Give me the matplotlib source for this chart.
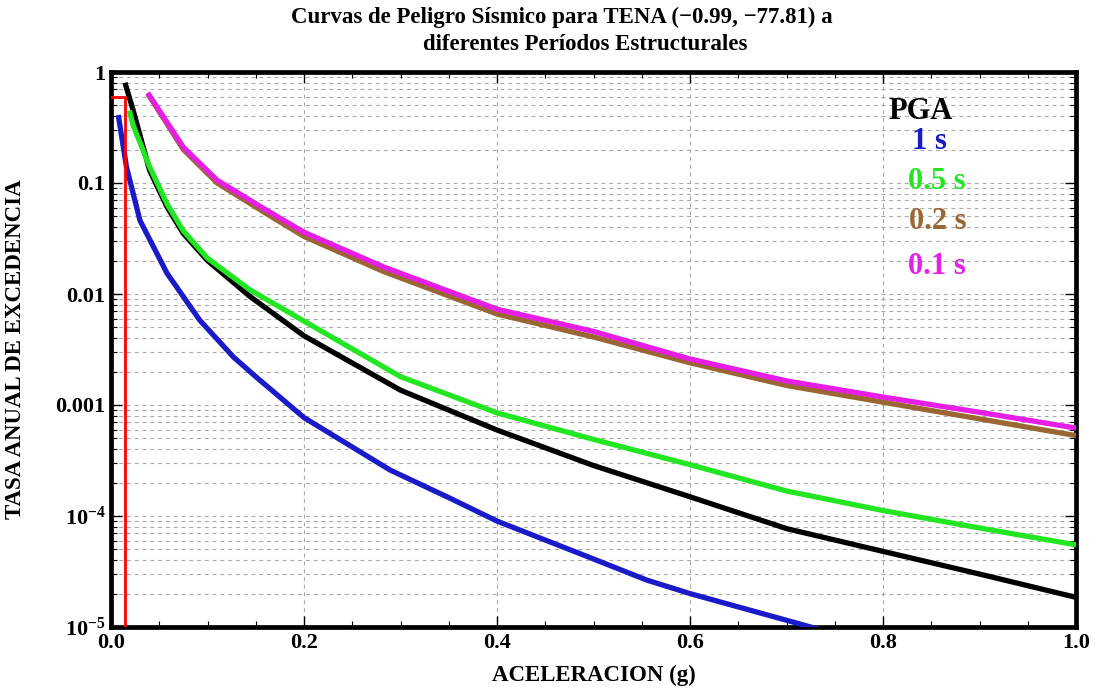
import matplotlib
matplotlib.use("Agg")
import matplotlib.pyplot as plt
from matplotlib.ticker import FixedLocator, NullFormatter
import numpy as np

# ---------------- data ----------------
pga_x = [0.0145, 0.023, 0.040, 0.058, 0.075, 0.100, 0.144, 0.200, 0.300, 0.400, 0.500, 0.600, 0.700, 0.800, 0.900, 1.000]
pga_y = [0.80, 0.45, 0.13, 0.061, 0.035, 0.020, 0.0095, 0.0042, 0.00136, 0.000595, 0.000285, 0.000149, 7.7e-5, 4.8e-5, 3.0e-5, 1.85e-5]

t1_x = [0.0075, 0.016, 0.030, 0.058, 0.092, 0.127, 0.150, 0.200, 0.289, 0.351, 0.400, 0.500, 0.555, 0.600, 0.700, 0.750]
t1_y = [0.41, 0.14, 0.046, 0.0154, 0.0058, 0.0027, 0.0018, 0.00077, 0.00026, 0.000145, 9.0e-5, 4.1e-5, 2.65e-5, 2.0e-5, 1.15e-5, 8.7e-6]

t05_x = [0.019, 0.023, 0.040, 0.058, 0.075, 0.100, 0.144, 0.200, 0.300, 0.400, 0.500, 0.600, 0.700, 0.800, 0.900, 1.000]
t05_y = [0.45, 0.33, 0.14, 0.065, 0.037, 0.021, 0.0109, 0.0057, 0.0018, 0.00085, 0.00049, 0.00029, 0.000168, 0.000112, 7.8e-5, 5.5e-5]

t02_x = [0.038, 0.075, 0.110, 0.161, 0.200, 0.282, 0.400, 0.500, 0.600, 0.700, 0.800, 0.900, 1.000]
t02_y = [0.64, 0.20, 0.100, 0.053, 0.033, 0.0160, 0.0066, 0.0041, 0.0024, 0.00150, 0.00106, 0.00075, 0.00053]

t01_x = [0.038, 0.075, 0.110, 0.161, 0.200, 0.282, 0.400, 0.500, 0.600, 0.700, 0.800, 0.900, 1.000]
t01_y = [0.65, 0.21, 0.106, 0.057, 0.036, 0.0176, 0.0073, 0.0046, 0.0026, 0.00165, 0.00118, 0.00086, 0.00062]

marker_x = [0.0, 0.0145, 0.0145]
marker_y = [0.595, 0.595, 1e-5]

x_ticks = [0.0, 0.2, 0.4, 0.6, 0.8, 1.0]
x_labels = ["0.0", "0.2", "0.4", "0.6", "0.8", "1.0"]
y_ticks = [1, 0.1, 0.01, 0.001, 1e-4, 1e-5]
y_labels = ["1", "0.1", "0.01", "0.001", r"$10^{-4}$", r"$10^{-5}$"]

legend_labels = ["PGA", "1 s", "0.5 s", "0.2 s", "0.1 s"]
colors = ["#000000", "#1a1ac8", "#22e622", "#9a6633", "#e61ee6"]

title1 = "Curvas de Peligro Sísmico para TENA (\u22120.99, \u221277.81) a"
title2 = "diferentes Períodos Estructurales"
xlabel = "ACELERACION (g)"
ylabel = "TASA ANUAL DE EXCEDENCIA"

# ---------------- style ----------------
serif = "Liberation Serif"
plt.rcParams["font.family"] = [serif, "DejaVu Serif"]
plt.rcParams["font.weight"] = "bold"
plt.rcParams["mathtext.fontset"] = "custom"
plt.rcParams["mathtext.rm"] = "Liberation Serif:bold"
plt.rcParams["mathtext.it"] = "Liberation Serif:bold"
plt.rcParams["mathtext.bf"] = "Liberation Serif:bold"
plt.rcParams["mathtext.default"] = "rm"

W, H = 1106, 693
fig = plt.figure(figsize=(W / 100, H / 100), dpi=100)
L, R, T, B = 111, 1076, 72, 627
ax = fig.add_axes([L / W, 1 - B / H, (R - L) / W, (B - T) / H])

ax.set_yscale("log")
ax.set_xlim(0, 1)
ax.set_ylim(1e-5, 1)

# grid
grid_kw = dict(color="#a8a8a8", lw=0.8, ls=(0, (3.5, 3.5)), zorder=0)
for xv in x_ticks[1:-1]:
    ax.axvline(xv, **grid_kw)
for d in range(-5, 0):
    for m in range(1, 10):
        v = m * 10.0 ** d
        if 1e-5 < v < 1:
            ax.axhline(v, **grid_kw)

# curves (drawn in legend order)
series = [(pga_x, pga_y), (t1_x, t1_y), (t05_x, t05_y), (t02_x, t02_y), (t01_x, t01_y)]
for (xs, ys), c in zip(series, colors):
    ax.plot(xs, ys, color=c, lw=3.8, solid_joinstyle="round", solid_capstyle="butt", zorder=3)

ax.plot(marker_x, marker_y, color="#ff0000", lw=2.0, zorder=4)

# ticks
ax.xaxis.set_major_locator(FixedLocator(x_ticks))
ax.set_xticklabels(x_labels)
ax.xaxis.set_minor_locator(FixedLocator(np.arange(0.05, 1.0, 0.05)))
ax.yaxis.set_major_locator(FixedLocator(y_ticks))
ax.set_yticklabels(y_labels)
minor_y = [m * 10.0 ** d for d in range(-5, 0) for m in range(2, 10)]
ax.yaxis.set_minor_locator(FixedLocator(minor_y))
ax.yaxis.set_minor_formatter(NullFormatter())

ax.tick_params(which="both", direction="in", top=True, right=True, color="black")
ax.tick_params(which="major", length=8, width=1.0, labelsize=16, pad=4)
ax.tick_params(which="minor", length=4, width=0.8)
for lab in ax.get_xticklabels() + ax.get_yticklabels():
    lab.set_fontweight("bold")

for s in ax.spines.values():
    s.set_linewidth(3.4)
    s.set_color("black")

# labels
ax.set_xlabel(xlabel, fontsize=16.5, fontweight="bold")
ax.xaxis.set_label_coords(0.5, -0.068)
ax.set_ylabel(ylabel, fontsize=16.5, fontweight="bold")
ax.yaxis.set_label_coords(-0.088, 0.5)

fig.text(562 / W, 1 - 17 / H, title1, ha="center", va="center", fontsize=16.5, fontweight="bold")
fig.text(585 / W, 1 - 45 / H, title2, ha="center", va="center", fontsize=16.5, fontweight="bold")

# legend as coloured text
leg_pos = [(0.806, 0.928), (0.830, 0.874), (0.826, 0.802), (0.827, 0.730), (0.826, 0.649)]
for lab, c, (fx, fy) in zip(legend_labels, colors, leg_pos):
    ax.text(fx, fy, lab, color=c, transform=ax.transAxes, ha="left", va="center",
            fontsize=22, fontweight="bold", zorder=5)

fig.savefig("out.png", dpi=100)
